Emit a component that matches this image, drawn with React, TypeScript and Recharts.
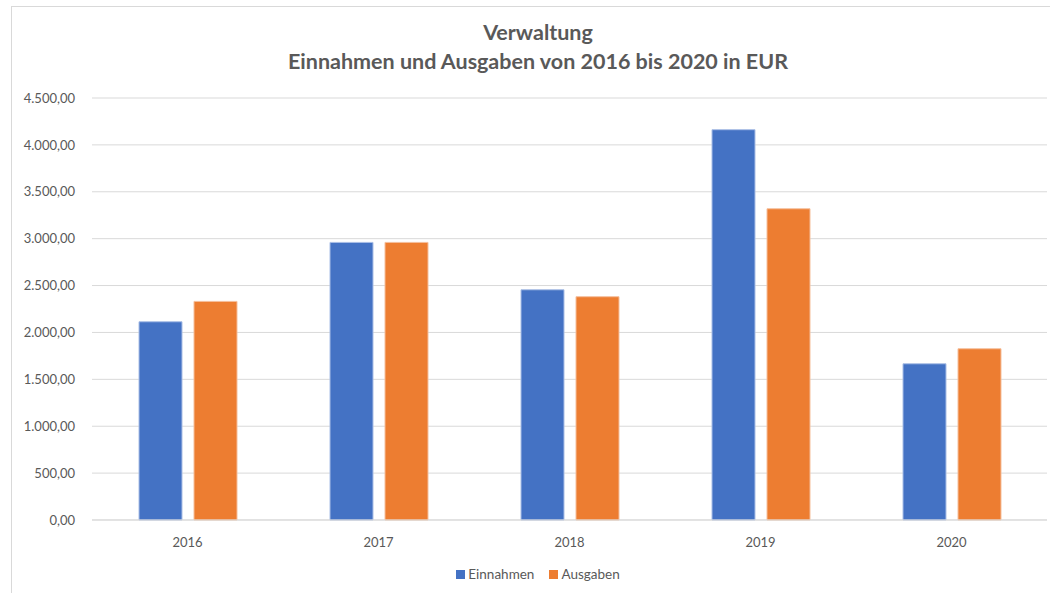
import { BarChart, Bar, XAxis, YAxis, CartesianGrid } from 'recharts';

const years = ['2016', '2017', '2018', '2019', '2020'];
const einnahmen = [2114, 2960, 2455, 4162, 1666];
const ausgaben = [2331, 2960, 2381, 3319, 1826];
const yTicks = [0, 500, 1000, 1500, 2000, 2500, 3000, 3500, 4000, 4500];

const series = [
  { key: 'Einnahmen', color: '#4472c4', edge: '#a9bee6' },
  { key: 'Ausgaben', color: '#ed7d31', edge: '#f5bf9c' },
];

const data = years.map((year, i) => ({
  year,
  Einnahmen: einnahmen[i],
  Ausgaben: ausgaben[i],
}));

const FONT = 'Lato, "Open Sans", sans-serif';
const GREY = '#595959';

// 4500 -> "4.500,00"
function formatEur(v: number) {
  const [int, dec] = v.toFixed(2).split('.');
  return int.replace(/\B(?=(\d{3})+(?!\d))/g, '.') + ',' + dec;
}

export default function App() {
  return (
    <div
      style={{
        position: 'absolute',
        left: 0,
        top: 0,
        width: 1050,
        height: 593,
        background: '#fff',
        fontFamily: FONT,
        overflow: 'hidden',
      }}
    >
      {/* chart frame */}
      <div
        style={{
          position: 'absolute',
          left: 11,
          top: 6,
          width: 1060,
          height: 600,
          border: '1px solid #d9d9d9',
        }}
      />
      <div
        style={{
          position: 'absolute',
          left: 0,
          width: 1076,
          top: 18,
          textAlign: 'center',
          color: GREY,
          fontWeight: 700,
          fontSize: 21.5,
          lineHeight: '29px',
        }}
      >
        <div>Verwaltung</div>
        <div>Einnahmen und Ausgaben von 2016 bis 2020 in EUR</div>
      </div>
      <div style={{ position: 'absolute', left: 0, top: 0 }}>
        <BarChart
          width={1050}
          height={593}
          data={data}
          margin={{ top: 98, right: 3, bottom: 43, left: 0 }}
          barGap={12}
          barCategoryGap={47}
        >
          <CartesianGrid vertical={false} stroke="#d9d9d9" strokeWidth={1} />
          <XAxis
            dataKey="year"
            height={30}
            axisLine={{ stroke: '#d9d9d9' }}
            tickLine={false}
            tickMargin={12}
            tick={{ fill: GREY, fontSize: 13, fontFamily: FONT }}
          />
          <YAxis
            width={92}
            domain={[0, 4500]}
            ticks={yTicks}
            axisLine={false}
            tickLine={false}
            tickSize={0}
            tickMargin={17}
            tickFormatter={formatEur}
            tick={{ fill: GREY, fontSize: 13, fontFamily: FONT }}
          />
          {series.map((s) => (
            <Bar
              key={s.key}
              dataKey={s.key}
              fill={s.color}
              stroke={s.edge}
              strokeWidth={1}
              isAnimationActive={false}
            />
          ))}
        </BarChart>
      </div>
      {/* legend */}
      <div
        style={{
          position: 'absolute',
          top: 565,
          left: 0,
          width: 1076,
          display: 'flex',
          justifyContent: 'center',
          gap: 15,
          fontSize: 13.5,
          color: GREY,
          lineHeight: '18px',
        }}
      >
        {series.map((s) => (
          <div key={s.key} style={{ display: 'flex', alignItems: 'center', gap: 3 }}>
            <span style={{ width: 9, height: 9, background: s.color, display: 'inline-block' }} />
            <span>{s.key}</span>
          </div>
        ))}
      </div>
    </div>
  );
}
